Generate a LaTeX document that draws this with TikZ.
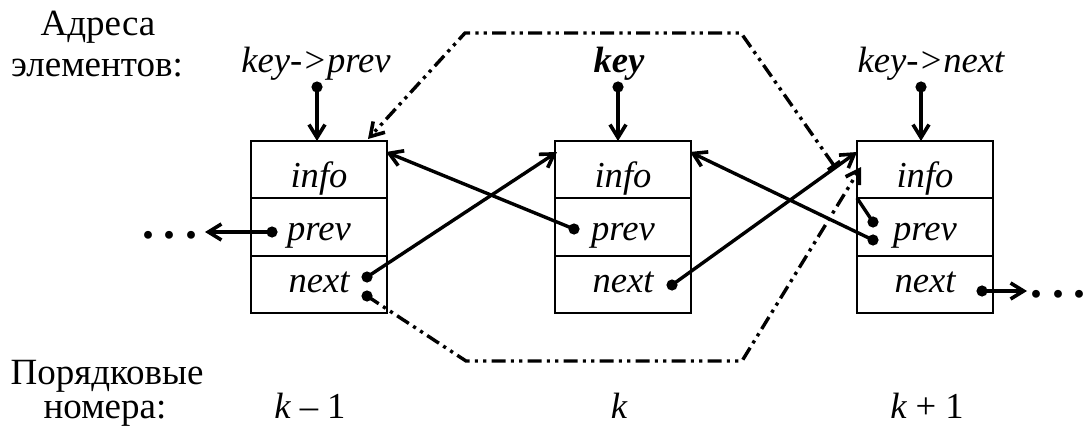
\documentclass[tikz,border=0pt]{standalone}
\usepackage{fontspec}
\setmainfont{Liberation Serif}
\usetikzlibrary{arrows.meta}
\begin{document}
\begin{tikzpicture}[x=0.5pt,y=-0.5pt,
  cell/.style={draw,line width=1.1pt,minimum width=68pt,minimum height=28.67pt,inner sep=0pt,outer sep=0pt},
  lbl/.style={font=\fontsize{18.3}{18}\selectfont\itshape,anchor=base,inner sep=0pt},
  txt/.style={font=\fontsize{18.5}{18}\selectfont,anchor=base,inner sep=0pt},
  tipb/.tip={Straight Barb[length=6.5pt,width=8pt,line width=1.8pt]},
  ptr/.style={line width=1.7pt,-tipb},
  link/.style={line width=1.7pt},
  dot/.style={circle,fill,inner sep=0pt,minimum size=5.6pt},
  dd/.style={line width=1.7pt,dash pattern=on 7pt off 2.6pt on 1.6pt off 2.6pt on 1.6pt off 2.6pt},
  ell/.style={font=\fontsize{24}{24}\selectfont\bfseries,anchor=base,inner sep=0pt},
]
\useasboundingbox (0,0) rectangle (1091,433);

% side texts
\node[txt] (adr1) at (98,36) {Адреса};
\node[txt] (adr2) at (97,77) {элементов:};
\node[txt] (por1) at (107,384) {Порядковые};
\node[txt] (por2) at (105,418) {номера:};

% address labels
\node[lbl] (kp) at (316,73) {key->prev};
\node[lbl,font=\fontsize{18.3}{18}\selectfont\bfseries\itshape] (kk) at (619,73) {key};
\node[lbl] (kn) at (931,73) {key->next};

% ordinal numbers
\node[lbl] (n1) at (310,418) {k\upshape\ – 1};
\node[lbl] (n2) at (619,418) {k};
\node[lbl] (n3) at (927,418) {k\upshape\ + 1};

% boxes
\foreach \n/\x in {L/319,M/623,R/925}{
  \node[cell] (\n1) at (\x,169.67) {};
  \node[cell] (\n2) at (\x,227) {};
  \node[cell] (\n3) at (\x,284.33) {};
  \node[lbl] (\n t1) at (\x,187) {info};
  \node[lbl] (\n t2) at (\x,240) {prev};
  \node[lbl] (\n t3) at (\x,292) {next};
}

% dots
\node[dot] (Ta) at (317,87) {};
\node[dot] (Tb) at (618,87) {};
\node[dot] (Tc) at (921,87) {};
\node[dot] (Lp) at (272,232) {};
\node[dot] (Ln1) at (367,277) {};
\node[dot] (Ln2) at (367,296) {};
\node[dot] (Mp) at (574,229) {};
\node[dot] (Mn) at (672,285) {};
\node[dot] (Rp1) at (873,222) {};
\node[dot] (Rp2) at (873,240) {};
\node[dot] (Rn) at (982,291) {};

% ellipses
\node[ell] (ldots) at (170,238) {.\hspace{5pt}.\hspace{5pt}.};
\node[ell] (rdots) at (1058,297) {.\hspace{5pt}.\hspace{5pt}.};

% arrow targets
\coordinate (la) at (205,232);
\coordinate (ra) at (1027,291);
\coordinate (Mtl) at (557,152);
\coordinate (Ltr) at (386,152);
\coordinate (Rtl) at (857,152);
\coordinate (Mtr) at (690,152);
\coordinate (Rdiv) at (857,198);
\coordinate (Ltip) at (368,139);
\coordinate (Rtip) at (861,167);
\coordinate (tb) at (835,167);
\coordinate (t1) at (741,33);
\coordinate (t2) at (465,33);
\coordinate (b1) at (466,361);
\coordinate (b2) at (742,361);

% address arrows
\draw[ptr] (Ta.center) -- (Ta.center |- L1.north);
\draw[ptr] (Tb.center) -- (Tb.center |- M1.north);
\draw[ptr] (Tc.center) -- (Tc.center |- R1.north);

% links
\draw[ptr] (Lp.center) -- (la);
\draw[ptr] (Rn.center) -- (ra);
\draw[ptr] (Ln1.center) -- (Mtl);
\draw[ptr] (Mp.center) -- (Ltr);
\draw[ptr] (Mn.center) -- (Rtl);
\draw[ptr] (Rp2.center) -- (Mtr);
\draw[link] (Rp1.center) -- (Rdiv);

% new links (dash-dot-dot)
\draw[dd,{Bar[width=7.5pt,line width=1.7pt]}-tipb] (tb) -- (t1) -- (t2) -- (Ltip);
\draw[dd,-tipb] (Ln2.center) -- (b1) -- (b2) -- (Rtip);
\end{tikzpicture}
\end{document}
